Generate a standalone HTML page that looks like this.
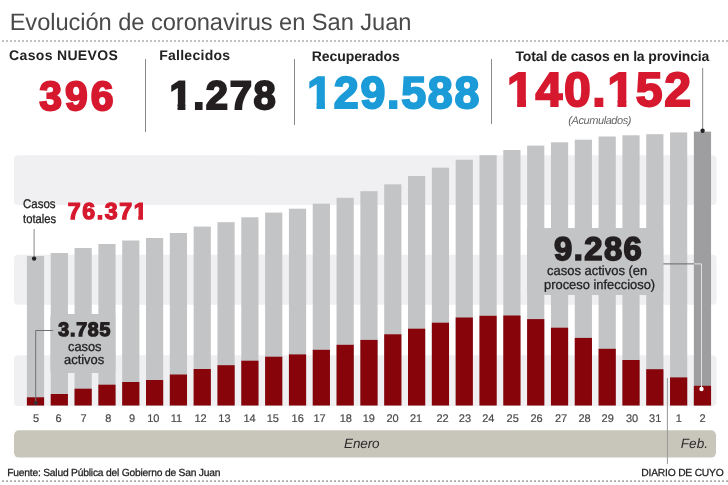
<!DOCTYPE html>
<html><head><meta charset="utf-8">
<style>
*{margin:0;padding:0;box-sizing:border-box}
html,body{width:728px;height:485px;overflow:hidden;background:#fff}
body{position:relative;font-family:"Liberation Sans",Arial,sans-serif;color:#222}
.a{position:absolute}
.t{position:absolute;white-space:nowrap;line-height:1;transform-origin:0 0;text-rendering:geometricPrecision}
.vl{position:absolute;width:1px;background:#8a8a8a}
.dl{position:absolute;top:412.8px;width:20px;text-align:center;font-size:11px;line-height:12px;color:#4a4a4a;-webkit-text-stroke:0.2px #4a4a4a;text-rendering:geometricPrecision}
</style></head><body>
<div class="vl" style="left:145px;top:59px;height:73px"></div>
<div class="vl" style="left:294px;top:59px;height:66px"></div>
<div class="vl" style="left:491px;top:59px;height:65px"></div>

<svg class="a" style="left:0;top:0" width="728" height="485" viewBox="0 0 728 485">
<path d="M2.2 41H728M2.2 481.1H728" stroke="#999" stroke-width="1.6" stroke-dasharray="1.6 2.4" fill="none"/><rect x="14" y="155.3" width="702.5" height="49.7" rx="4" fill="#f0f0f2"/><rect x="14" y="254.8" width="702.5" height="50.0" rx="4" fill="#f0f0f2"/><rect x="14" y="355.2" width="702.5" height="50.8" rx="4" fill="#f0f0f2"/><rect x="26.90" y="256" width="17.2" height="149.50" fill="#c3c4c6"/><rect x="26.90" y="397.3" width="17.2" height="8.20" fill="#86040a"/><rect x="50.72" y="253" width="17.2" height="152.50" fill="#c3c4c6"/><rect x="50.72" y="394" width="17.2" height="11.50" fill="#86040a"/><rect x="74.54" y="248" width="17.2" height="157.50" fill="#c3c4c6"/><rect x="74.54" y="388.7" width="17.2" height="16.80" fill="#86040a"/><rect x="98.36" y="244" width="17.2" height="161.50" fill="#c3c4c6"/><rect x="98.36" y="384.7" width="17.2" height="20.80" fill="#86040a"/><rect x="122.18" y="240.5" width="17.2" height="165.00" fill="#c3c4c6"/><rect x="122.18" y="382" width="17.2" height="23.50" fill="#86040a"/><rect x="146.00" y="238" width="17.2" height="167.50" fill="#c3c4c6"/><rect x="146.00" y="380" width="17.2" height="25.50" fill="#86040a"/><rect x="169.82" y="233" width="17.2" height="172.50" fill="#c3c4c6"/><rect x="169.82" y="374.5" width="17.2" height="31.00" fill="#86040a"/><rect x="193.64" y="226.6" width="17.2" height="178.90" fill="#c3c4c6"/><rect x="193.64" y="369" width="17.2" height="36.50" fill="#86040a"/><rect x="217.46" y="222.2" width="17.2" height="183.30" fill="#c3c4c6"/><rect x="217.46" y="365.2" width="17.2" height="40.30" fill="#86040a"/><rect x="241.28" y="217.3" width="17.2" height="188.20" fill="#c3c4c6"/><rect x="241.28" y="360.7" width="17.2" height="44.80" fill="#86040a"/><rect x="265.10" y="212.6" width="17.2" height="192.90" fill="#c3c4c6"/><rect x="265.10" y="356.7" width="17.2" height="48.80" fill="#86040a"/><rect x="288.92" y="208.7" width="17.2" height="196.80" fill="#c3c4c6"/><rect x="288.92" y="354.4" width="17.2" height="51.10" fill="#86040a"/><rect x="312.74" y="203.7" width="17.2" height="201.80" fill="#c3c4c6"/><rect x="312.74" y="349.8" width="17.2" height="55.70" fill="#86040a"/><rect x="336.56" y="197.8" width="17.2" height="207.70" fill="#c3c4c6"/><rect x="336.56" y="344.8" width="17.2" height="60.70" fill="#86040a"/><rect x="360.38" y="191.2" width="17.2" height="214.30" fill="#c3c4c6"/><rect x="360.38" y="339.9" width="17.2" height="65.60" fill="#86040a"/><rect x="384.20" y="184.3" width="17.2" height="221.20" fill="#c3c4c6"/><rect x="384.20" y="334.3" width="17.2" height="71.20" fill="#86040a"/><rect x="408.02" y="176" width="17.2" height="229.50" fill="#c3c4c6"/><rect x="408.02" y="328.7" width="17.2" height="76.80" fill="#86040a"/><rect x="431.84" y="167.7" width="17.2" height="237.80" fill="#c3c4c6"/><rect x="431.84" y="322.7" width="17.2" height="82.80" fill="#86040a"/><rect x="455.66" y="159.8" width="17.2" height="245.70" fill="#c3c4c6"/><rect x="455.66" y="317.5" width="17.2" height="88.00" fill="#86040a"/><rect x="479.48" y="155.2" width="17.2" height="250.30" fill="#c3c4c6"/><rect x="479.48" y="315.8" width="17.2" height="89.70" fill="#86040a"/><rect x="503.30" y="150" width="17.2" height="255.50" fill="#c3c4c6"/><rect x="503.30" y="315.5" width="17.2" height="90.00" fill="#86040a"/><rect x="527.12" y="145.6" width="17.2" height="259.90" fill="#c3c4c6"/><rect x="527.12" y="319.1" width="17.2" height="86.40" fill="#86040a"/><rect x="550.94" y="142.3" width="17.2" height="263.20" fill="#c3c4c6"/><rect x="550.94" y="327.7" width="17.2" height="77.80" fill="#86040a"/><rect x="574.76" y="139.7" width="17.2" height="265.80" fill="#c3c4c6"/><rect x="574.76" y="337.9" width="17.2" height="67.60" fill="#86040a"/><rect x="598.58" y="136.5" width="17.2" height="269.00" fill="#c3c4c6"/><rect x="598.58" y="348.8" width="17.2" height="56.70" fill="#86040a"/><rect x="622.40" y="135.3" width="17.2" height="270.20" fill="#c3c4c6"/><rect x="622.40" y="360" width="17.2" height="45.50" fill="#86040a"/><rect x="646.22" y="134.2" width="17.2" height="271.30" fill="#c3c4c6"/><rect x="646.22" y="369.2" width="17.2" height="36.30" fill="#86040a"/><rect x="670.04" y="132.4" width="17.2" height="273.10" fill="#c3c4c6"/><rect x="670.04" y="377.4" width="17.2" height="28.10" fill="#86040a"/><rect x="693.86" y="131.6" width="17.2" height="273.90" fill="#9e9ea0"/><rect x="693.86" y="385.8" width="17.2" height="19.70" fill="#86040a"/>
<rect x="50.4" y="314" width="65" height="59" rx="3" fill="#c3c4c6"/>
<rect x="527" y="228" width="136.2" height="67" rx="3" fill="#c3c4c6"/>
<path d="M34.1 229V258.6" stroke="#888" stroke-width="1" fill="none"/>
<path d="M53.2 330.5H35.7V403" stroke="#707070" stroke-width="1" fill="none"/>
<path d="M663.3 263.9H694" stroke="#666" stroke-width="1" fill="none"/>
<path d="M694 263.9H701.5V389" stroke="#e0e0e0" stroke-width="1" fill="none"/>
<circle cx="701.5" cy="389" r="2.2" fill="#fff"/>
<path d="M702.6 68V131" stroke="#999" stroke-width="1.2" fill="none"/>
<circle cx="702.6" cy="130.8" r="2.2" fill="#222"/>
<circle cx="34.1" cy="258.6" r="2.2" fill="#222"/>
<circle cx="35.7" cy="403" r="2.1" fill="#333"/>
<rect x="14" y="430.2" width="702" height="27.4" rx="5" fill="#c8c6bb"/>
<path d="M667.4 378V464" stroke="#999" stroke-width="1" fill="none"/>
</svg>
<div class="dl" style="left:26.1px">5</div><div class="dl" style="left:48.6px">6</div><div class="dl" style="left:73.5px">7</div><div class="dl" style="left:98.2px">8</div><div class="dl" style="left:122.0px">9</div><div class="dl" style="left:143.3px">10</div><div class="dl" style="left:166.4px">11</div><div class="dl" style="left:190.6px">12</div><div class="dl" style="left:214.4px">13</div><div class="dl" style="left:239.5px">14</div><div class="dl" style="left:262.8px">15</div><div class="dl" style="left:287.7px">16</div><div class="dl" style="left:309.6px">17</div><div class="dl" style="left:335.8px">18</div><div class="dl" style="left:358.8px">19</div><div class="dl" style="left:382.5px">20</div><div class="dl" style="left:406.0px">21</div><div class="dl" style="left:432.6px">22</div><div class="dl" style="left:454.9px">23</div><div class="dl" style="left:478.3px">24</div><div class="dl" style="left:502.7px">25</div><div class="dl" style="left:526.6px">26</div><div class="dl" style="left:551.0px">27</div><div class="dl" style="left:574.5px">28</div><div class="dl" style="left:597.7px">29</div><div class="dl" style="left:622.0px">30</div><div class="dl" style="left:645.2px">31</div><div class="dl" style="left:668.7px">1</div><div class="dl" style="left:692.5px">2</div>
<div class="t" style="left:9.64px;top:11.63px;font-size:23.7px;color:#4a4a4a;letter-spacing:-0.07px">Evolución de coronavirus en San Juan</div>
<div class="t" style="left:9.1px;top:47.59px;font-size:14px;color:#222;font-weight:bold;letter-spacing:0.33px">Casos NUEVOS</div>
<div class="t" style="left:159.16px;top:47.69px;font-size:14px;color:#222;font-weight:bold;letter-spacing:0.27px">Fallecidos</div>
<div class="t" style="left:311.66px;top:48.59px;font-size:14px;color:#222;font-weight:bold;letter-spacing:-0.06px">Recuperados</div>
<div class="t" style="left:515.5px;top:48.59px;font-size:14px;color:#222;font-weight:bold;letter-spacing:-0.15px">Total de casos en la provincia</div>
<div class="t" style="left:39.24px;top:75.5px;font-size:40.87px;color:#d6192e;font-weight:bold;letter-spacing:3.02px;-webkit-text-stroke:2.0px #d6192e">396</div>
<div class="t" style="left:169.41px;top:76.6px;font-size:39.95px;color:#231f20;font-weight:bold;letter-spacing:1.58px;-webkit-text-stroke:2.0px #231f20;clip-path:polygon(-10.00px -10.00px,117.87px -10.00px,117.87px 49.95px,23.11px 49.95px,23.11px 26.82px,15.91px 26.82px,15.91px 49.95px,8.22px 49.95px,8.22px 26.82px,0.52px 26.82px,0.52px 49.95px,-10.00px 49.95px)">1.278</div>
<div class="t" style="left:307.26px;top:70.6px;font-size:44.78px;color:#1b9bd7;font-weight:bold;letter-spacing:1.71px;-webkit-text-stroke:2.0px #1b9bd7;clip-path:polygon(-10.00px -10.00px,183.84px -10.00px,183.84px 54.78px,25.66px 54.78px,25.66px 30.99px,17.70px 30.99px,17.70px 54.78px,9.35px 54.78px,9.35px 30.99px,0.82px 30.99px,0.82px 54.78px,-10.00px 54.78px)">129.588</div>
<div class="t" style="left:507.06px;top:65.6px;font-size:48.14px;color:#d6192e;font-weight:bold;letter-spacing:1.67px;-webkit-text-stroke:2.0px #d6192e;clip-path:polygon(-10.00px -10.00px,195.70px -10.00px,195.70px 58.14px,127.81px 58.14px,127.81px 33.84px,119.32px 33.84px,119.32px 58.14px,110.51px 58.14px,110.51px 33.84px,101.41px 33.84px,101.41px 58.14px,27.43px 58.14px,27.43px 33.84px,18.94px 33.84px,18.94px 58.14px,10.14px 58.14px,10.14px 33.84px,1.03px 33.84px,1.03px 58.14px,-10.00px 58.14px)">140.152</div>
<div class="t" style="left:568.28px;top:115.5px;font-size:11px;color:#666;font-style:italic;letter-spacing:-0.42px">(Acumulados)</div>
<div class="t" style="left:67.76px;top:199.6px;font-size:23.15px;color:#d6192e;font-weight:bold;letter-spacing:1.6px;-webkit-text-stroke:1.3px #d6192e;clip-path:polygon(-10.00px -10.00px,90.41px -10.00px,90.41px 33.15px,79.81px 33.15px,79.81px 15.88px,75.26px 15.88px,75.26px 33.15px,70.58px 33.15px,70.58px 15.88px,65.74px 15.88px,65.74px 33.15px,-10.00px 33.15px)">76.371</div>
<div class="t" style="left:58.25px;top:320.6px;font-size:19.51px;color:#231f20;font-weight:bold;letter-spacing:0.81px;-webkit-text-stroke:1.3px #231f20">3.785</div>
<div class="t" style="left:554.04px;top:232.5px;font-size:32.78px;color:#231f20;font-weight:bold;letter-spacing:1.45px;-webkit-text-stroke:1.7px #231f20">9.286</div>
<div class="t" style="left:22.75px;top:197.64px;font-size:12.5px;color:#222;transform:scaleX(0.919);-webkit-text-stroke:0.3px #222">Casos</div>
<div class="t" style="left:22.97px;top:212.57px;font-size:12.5px;color:#222;transform:scaleX(0.9);-webkit-text-stroke:0.3px #222">totales</div>
<div class="t" style="left:67.6px;top:339.58px;font-size:13.2px;color:#222;transform:scaleX(0.973);-webkit-text-stroke:0.3px #222">casos</div>
<div class="t" style="left:64.28px;top:352.6px;font-size:13.2px;color:#222;transform:scaleX(0.98);-webkit-text-stroke:0.3px #222">activos</div>
<div class="t" style="left:547.33px;top:263.69px;font-size:13.2px;color:#222;transform:scaleX(0.984);-webkit-text-stroke:0.3px #222">casos activos (en</div>
<div class="t" style="left:544.3px;top:277.58px;font-size:13.2px;color:#222;transform:scaleX(0.978);-webkit-text-stroke:0.3px #222">proceso infeccioso)</div>
<div class="t" style="left:344.07px;top:436.64px;font-size:13.5px;color:#2a2a2a;font-style:italic;letter-spacing:-0.15px">Enero</div>
<div class="t" style="left:680.68px;top:436.64px;font-size:13.5px;color:#2a2a2a;font-style:italic;letter-spacing:0.1px">Feb.</div>
<div class="t" style="left:7.19px;top:468.64px;font-size:10.3px;color:#222;letter-spacing:-0.22px;-webkit-text-stroke:0.25px #222">Fuente: Salud Pública del Gobierno de San Juan</div>
<div class="t" style="left:641.35px;top:468.64px;font-size:10.3px;color:#222;letter-spacing:-0.22px;-webkit-text-stroke:0.25px #222">DIARIO DE CUYO</div>
</body></html>
